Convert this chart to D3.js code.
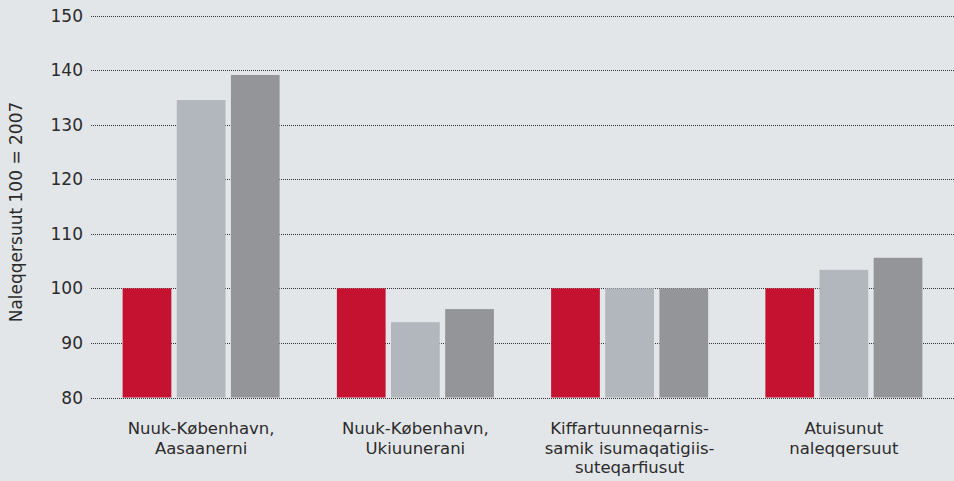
<!doctype html>
<html>
<head>
<meta charset="utf-8">
<script src="https://d3js.org/d3.v7.min.js"></script>
<style>
  body { margin: 0; background: #e3e6e9; }
  svg { display: block; font-family: "DejaVu Sans", sans-serif; }
</style>
</head>
<body>
<svg id="chart" width="954" height="481"></svg>
<script>
// data
var categories = [
  ["Nuuk-København,", "Aasaanerni"],
  ["Nuuk-København,", "Ukiuunerani"],
  ["Kiffartuunneqarnis-", "samik isumaqatigiis-", "suteqarfiusut"],
  ["Atuisunut", "naleqqersuut"]
];
var series = ["s1", "s2", "s3"];
var values1 = [100, 100, 100, 100];
var values2 = [134.5, 93.8, 100, 103.4];
var values3 = [139.1, 96.2, 100, 105.6];
var yTicks = [80, 90, 100, 110, 120, 130, 140, 150];
var colors = ["#c41230", "#b1b7bd", "#939598"];

var svg = d3.select("#chart");
var W = 954, H = 481;

svg.append("rect").attr("width", W).attr("height", H).attr("fill", "#e3e6e9");

var y = d3.scaleLinear().domain([80, 150]).range([397.5, 15.5]);
var x0 = d3.scaleBand().domain(d3.range(categories.length)).range([94, 951]).padding(0);
var x1 = d3.scaleBand().domain(series).range([0, 157]).paddingInner(0.1).paddingOuter(0);

// gridlines
svg.append("g").selectAll("line")
  .data(yTicks).enter().append("line")
  .attr("x1", 91).attr("x2", W)
  .attr("y1", function(d){ return Math.round(y(d)) + 0.5; })
  .attr("y2", function(d){ return Math.round(y(d)) + 0.5; })
  .attr("stroke", "#333")
  .attr("stroke-width", 1)
  .attr("stroke-dasharray", "1,1");

// y labels
svg.append("g").selectAll("text")
  .data(yTicks).enter().append("text")
  .attr("x", 83)
  .attr("y", function(d){ return y(d); })
  .attr("dy", "0.36em")
  .attr("text-anchor", "end")
  .attr("fill", "#2b2b2b")
  .attr("font-size", 17)
  .text(function(d){ return d; });

// bars
var allVals = [values1, values2, values3];
var groups = svg.append("g").selectAll("g")
  .data(categories).enter().append("g")
  .attr("transform", function(d, i){ return "translate(" + (x0(i) + x0.bandwidth()/2 - 78.5) + ",0)"; });

groups.selectAll("rect")
  .data(function(d, i){ return series.map(function(s, j){ return {s: s, j: j, v: allVals[j][i]}; }); })
  .enter().append("rect")
  .attr("x", function(d){ return x1(d.s); })
  .attr("width", x1.bandwidth())
  .attr("y", function(d){ return y(d.v); })
  .attr("height", function(d){ return y(80) - y(d.v); })
  .attr("fill", function(d){ return colors[d.j]; });

// category labels
groups.append("text")
  .attr("text-anchor", "middle")
  .attr("fill", "#2b2b2b")
  .attr("font-size", 16.5)
  .attr("x", 78.5)
  .selectAll("tspan")
  .data(function(d){ return d; })
  .enter().append("tspan")
  .attr("x", 78.5)
  .attr("y", function(d, i){ return 434 + i * 19.5; })
  .text(function(d){ return d; });

// y title
svg.append("text")
  .attr("transform", "translate(22,212) rotate(-90)")
  .attr("text-anchor", "middle")
  .attr("fill", "#2b2b2b")
  .attr("font-size", 17)
  .text("Naleqqersuut 100 = 2007");
</script>
</body>
</html>
